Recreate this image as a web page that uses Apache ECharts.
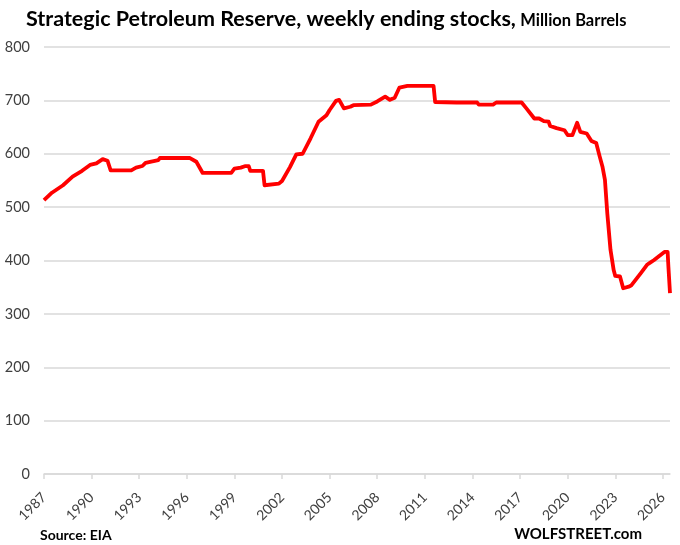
<!DOCTYPE html>
<html>
<head>
<meta charset="utf-8">
<script src="https://cdn.jsdelivr.net/npm/echarts@6/dist/echarts.min.js"></script>
<style>
  html, body { margin: 0; padding: 0; background: #fff; }
  #spr-chart { width: 680px; height: 545px; }
</style>
</head>
<body>
<div id="spr-chart"></div>
<script>
var myChart = echarts.init(document.getElementById('spr-chart'));
var fontFamily = 'Lato, "Open Sans", sans-serif';
var lineColor = '#ff0000';
var gridColor = '#d9d9d9';
var labelColor = '#404040';

// weekly ending stocks, million barrels
var years = [
    1987.0, 1987.5, 1988.2, 1988.8, 1989.4, 1989.9, 1990.3, 1990.7, 1991.0, 1991.1,
    1991.2, 1992.5, 1992.8, 1993.2, 1993.4, 1994.2, 1994.3, 1996.2, 1996.6, 1997.0,
    1998.8, 1999.0, 1999.4, 1999.7, 1999.9, 2000.0, 2000.8, 2000.9, 2001.8, 2002.0,
    2002.5, 2002.9, 2003.3, 2003.8, 2004.3, 2004.8, 2005.0, 2005.4, 2005.6, 2005.9,
    2006.3, 2006.5, 2007.6, 2008.0, 2008.5, 2008.8, 2009.1, 2009.4, 2009.9, 2011.55,
    2011.65, 2013.0, 2014.3, 2014.4, 2015.3, 2015.5, 2017.1, 2017.4, 2017.9, 2018.2,
    2018.5, 2018.8, 2018.9, 2019.3, 2019.8, 2020.0, 2020.3, 2020.6, 2020.8, 2021.2,
    2021.5, 2021.8, 2022.0, 2022.2, 2022.35, 2022.5, 2022.7, 2022.9, 2023.0, 2023.3,
    2023.5, 2023.85, 2024.0, 2024.6, 2025.0, 2025.2, 2025.45, 2025.75, 2026.1, 2026.3,
    2026.35, 2026.45
];
var stocks = [
    513, 527, 541, 557, 568, 579, 582, 590, 587, 585,
    569, 569, 574, 577, 583, 588, 592, 592, 585, 564,
    564, 572, 574, 577, 577, 568, 568, 541, 544, 549,
    575, 599, 600, 629, 660, 672, 682, 699, 701, 685,
    688, 691, 692, 698, 707, 701, 705, 724, 727, 727,
    697, 696, 696, 692, 692, 696, 696, 685, 666, 666,
    661, 660, 652, 648, 644, 635, 635, 658, 641, 638,
    624, 620, 597, 575, 551, 488, 420, 382, 371, 370,
    348, 351, 353, 376, 392, 396, 401, 408, 416, 416,
    388, 339
];
var tickYears = [1987, 1990, 1993, 1996, 1999, 2002, 2005, 2008, 2011, 2014, 2017, 2020, 2023, 2026];

var seriesData = years.map(function (y, i) {
    return [y, stocks[i]];
});

option = {
    backgroundColor: '#fff',
    animation: false,
    textStyle: {
        fontFamily: fontFamily
    },
    title: {
        text: '{main|Strategic Petroleum Reserve, weekly ending stocks,} {unit|Million Barrels}',
        left: 21,
        top: 3,
        textStyle: {
            rich: {
                main: {
                    fontFamily: fontFamily,
                    fontSize: 21.5,
                    fontWeight: 'bold',
                    color: '#000'
                },
                unit: {
                    fontFamily: fontFamily,
                    fontSize: 16.5,
                    fontWeight: 'bold',
                    color: '#000',
                    verticalAlign: 'bottom',
                    padding: [0, 0, 1, 0]
                }
            }
        }
    },
    graphic: [{
        type: 'text',
        left: 40,
        top: 528,
        style: {
            text: 'Source: EIA',
            fontFamily: fontFamily,
            fontSize: 14,
            fontWeight: 'bold',
            fill: '#000'
        }
    }, {
        type: 'text',
        right: 38,
        top: 527,
        style: {
            text: 'WOLFSTREET.com',
            fontFamily: fontFamily,
            fontSize: 15,
            fontWeight: 'bold',
            fill: '#000'
        }
    }],
    grid: {
        left: 44,
        right: 10,
        top: 47,
        bottom: 71,
        containLabel: false
    },
    xAxis: {
        type: 'value',
        min: 1987,
        max: 2026.45,
        splitLine: { show: false },
        axisLine: {
            show: true,
            lineStyle: { color: gridColor, width: 1.5 }
        },
        axisTick: {
            show: true,
            length: 5,
            customValues: tickYears,
            lineStyle: { color: gridColor, width: 1.5 }
        },
        axisLabel: {
            customValues: tickYears,
            formatter: function (v) { return String(v); },
            rotate: 45,
            margin: 21,
            fontSize: 14,
            color: labelColor,
            fontFamily: fontFamily
        }
    },
    yAxis: {
        type: 'value',
        min: 0,
        max: 800,
        interval: 100,
        axisLine: { show: false },
        axisTick: { show: false },
        splitLine: {
            lineStyle: { color: gridColor, width: 1.5 }
        },
        axisLabel: {
            margin: 14,
            fontSize: 14.5,
            color: labelColor,
            fontFamily: fontFamily
        }
    },
    series: [{
        type: 'line',
        data: seriesData,
        showSymbol: false,
        symbol: 'none',
        lineStyle: {
            color: lineColor,
            width: 3.8,
            join: 'round'
        },
        z: 3
    }]
};
myChart.setOption(option);
</script>
</body>
</html>
